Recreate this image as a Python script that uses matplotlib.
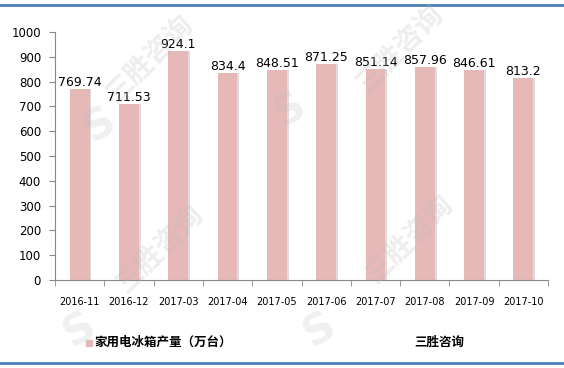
import matplotlib
matplotlib.use("Agg")
import matplotlib.pyplot as plt
from matplotlib.patches import Rectangle
from matplotlib.lines import Line2D

plt.rcParams['font.family'] = ['DejaVu Sans', 'Noto Sans CJK SC']

months = ["2016-11", "2016-12", "2017-03", "2017-04", "2017-05",
          "2017-06", "2017-07", "2017-08", "2017-09", "2017-10"]
output = [769.74, 711.53, 924.1, 834.4, 848.51, 871.25, 851.14, 857.96, 846.61, 813.2]
value_labels = ["769.74", "711.53", "924.1", "834.4", "848.51",
                "871.25", "851.14", "857.96", "846.61", "813.2"]
series_name = "家用电冰箱产量（万台）"
source_name = "三胜咨询"
y_ticks = [0, 100, 200, 300, 400, 500, 600, 700, 800, 900, 1000]

W, H = 564, 368
fig = plt.figure(figsize=(W / 100, H / 100), dpi=100)
ax = fig.add_axes([55 / W, 1 - 280 / H, 493 / W, 248 / H])

bar_color = "#E6B9B8"
x = list(range(len(months)))
width = 0.4

# soft drop shadow to the right of each bar
ax.bar([i + 0.04 for i in x], output, width=width, color="#DDDDDD", zorder=1)
ax.bar(x, output, width=width, color=bar_color, zorder=2)

for i, (v, lab) in enumerate(zip(output, value_labels)):
    ax.annotate(lab, (i, v), xytext=(0, 0), textcoords="offset points",
                ha="center", va="bottom", fontsize=9, color="black", zorder=5)

ax.set_xlim(-0.5, len(months) - 0.5)
ax.set_ylim(0, 1000)
ax.set_yticks(y_ticks)
ax.set_yticklabels([str(t) for t in y_ticks], fontsize=8.5)
ax.set_xticks(x)
ax.set_xticklabels(months, fontsize=7)
ax.set_xticks([i - 0.5 for i in range(len(months) + 1)], minor=True)
ax.tick_params(axis="x", which="major", length=0, pad=12)
ax.tick_params(axis="x", which="minor", length=4, color="#888888")
ax.tick_params(axis="y", length=4, color="#888888", pad=6)
for s in ["top", "right"]:
    ax.spines[s].set_visible(False)
for s in ["left", "bottom"]:
    ax.spines[s].set_color("#888888")
    ax.spines[s].set_linewidth(0.8)

# watermarks
wm_color = "#BBBBBB"
for (wx, wy) in [(150, 60), (400, 50), (160, 250), (410, 240)]:
    fig.text(wx / W, 1 - wy / H, "三胜咨询", rotation=45, fontsize=20,
             fontweight="bold", color=wm_color, alpha=0.25,
             family="Noto Sans CJK SC", ha="center", va="center", zorder=10)
for (wx, wy) in [(100, 125), (290, 110), (80, 330), (320, 330)]:
    fig.text(wx / W, 1 - wy / H, "S", rotation=30, fontsize=30,
             fontweight="bold", color=wm_color, alpha=0.22,
             ha="center", va="center", zorder=10)

# legend and source
fig.patches.append(Rectangle((86 / W, 1 - 346 / H), 6 / W, 6 / H,
                             transform=fig.transFigure, color=bar_color))
fig.text(94 / W, 1 - 342 / H, series_name, fontsize=9, fontweight="bold",
         family="Noto Sans CJK SC", va="center", ha="left")
fig.text(414 / W, 1 - 342 / H, source_name, fontsize=9, fontweight="bold",
         family="Noto Sans CJK SC", va="center", ha="left")

# frame lines
border = "#4A7EBB"
fig.lines.append(Line2D([0, 1], [1 - 4.5 / H] * 2, transform=fig.transFigure,
                        color=border, linewidth=2))
fig.lines.append(Line2D([0, 1], [1 - 363 / H] * 2, transform=fig.transFigure,
                        color=border, linewidth=2))

fig.savefig("out.png", dpi=100)
